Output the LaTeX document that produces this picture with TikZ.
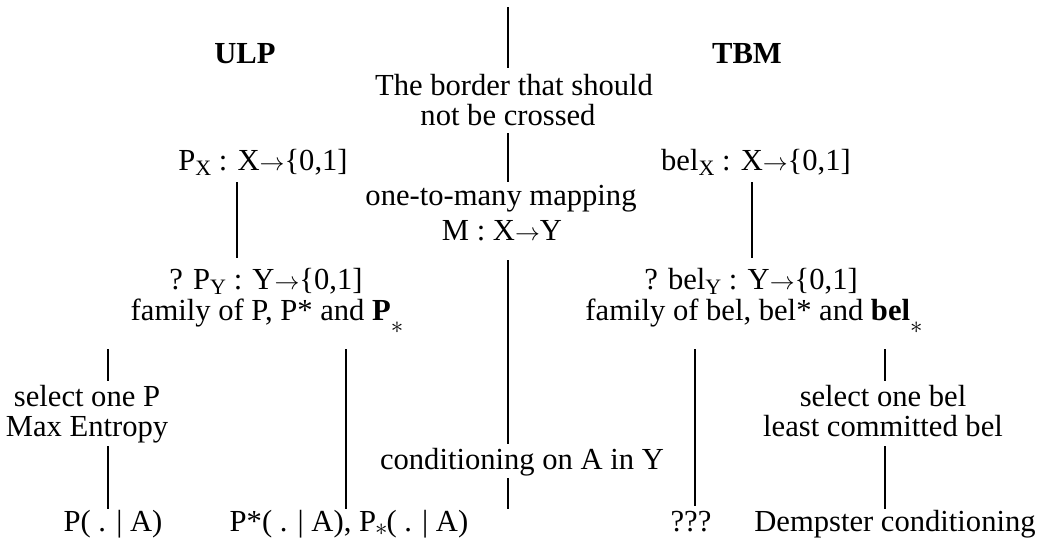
\documentclass[tikz,border=0pt]{standalone}
\usepackage{fontspec}
\setmainfont{Liberation Serif}
\newcommand\sbx[1]{\raisebox{-5pt}{\fontsize{22}{22}\selectfont #1}}
\newcommand\lowast{\raisebox{-13pt}{\fontsize{24}{24}\selectfont$\ast$}}
\newcommand\midast{\kern-1pt\raisebox{-4pt}{\fontsize{24}{24}\selectfont$\ast$}\kern-1pt}
\newcommand\arr{$\rightarrow$}
\begin{document}
\begin{tikzpicture}[x=1pt,y=-1pt,
  lbl/.style={anchor=base,inner sep=0pt,text height=18pt,text depth=4pt,font=\fontsize{30.6}{32}\selectfont},
  hd/.style={lbl,font=\fontsize{30.6}{32}\selectfont\bfseries},
  conn/.style={line width=2pt}]
\useasboundingbox (0,0) rectangle (1051,542);

% column positions for connectors
\coordinate (xc) at (508,0);
\coordinate (xl) at (237,0);
\coordinate (xr) at (752,0);
\coordinate (xa) at (108,0);
\coordinate (xb) at (346,0);
\coordinate (xd) at (695,0);
\coordinate (xe) at (885,0);
\coordinate (ctop) at (508,7);
\coordinate (cbot) at (508,509);

% headings
\node[hd] (ulp) at (245,63) {ULP};
\node[hd] (tbm) at (747,63) {TBM};

% centre column
\node[lbl] (b1) at (514,95) {The border that should};
\node[lbl] (b2) at (508,125) {not be crossed};
\node[lbl] (otm) at (501,205) {one-to-many mapping};
\node[lbl] (mxy) at (502,240) {M : X\arr Y};
\node[lbl] (cond) at (522,469) {conditioning on A in Y};

% left (ULP)
\node[lbl] (px) at (263,170) {P\sbx{X} : X\arr\{0,1]};
\node[lbl] (py) at (266,289) {? P\sbx{Y} : Y\arr\{0,1]};
\node[lbl] (famL) at (267,320) {family of P, P* and \textbf{P}\lowast};
\node[lbl] (selP) at (87,406) {select one P};
\node[lbl] (maxE) at (87,436) {Max Entropy};
\node[lbl] (pa) at (113,531) {P( . | A)};
\node[lbl] (psa) at (349,531) {P*( . | A), P\midast( . | A)};

% right (TBM)
\node[lbl] (bx) at (756,170) {bel\sbx{X} : X\arr\{0,1]};
\node[lbl] (by) at (751,289) {? bel\sbx{Y} : Y\arr\{0,1]};
\node[lbl] (famR) at (754,320) {family of bel, bel* and \textbf{bel}\lowast};
\node[lbl] (selB) at (883,406) {select one bel};
\node[lbl] (lcb) at (883,436) {least committed bel};
\node[lbl] (qqq) at (691,531) {???};
\node[lbl] (demp) at (895,531) {Dempster conditioning};

% connectors
\draw[conn,shorten >=9pt] (ctop) -- (b1.north -| xc);
\draw[conn,shorten <=4pt,shorten >=5pt] (b2.south -| xc) -- (otm.north -| xc);
\draw[conn,shorten <=16pt,shorten >=7pt] (mxy.south -| xc) -- (cond.north -| xc);
\draw[conn,shorten <=5pt] (cond.south -| xc) -- (cbot);
\draw[conn,shorten <=8pt,shorten >=13pt] (px.south -| xl) -- (py.north -| xl);
\draw[conn,shorten <=8pt,shorten >=13pt] (bx.south -| xr) -- (by.north -| xr);
\draw[conn,shorten <=25pt,shorten >=7pt] (famL.south -| xa) -- (selP.north -| xa);
\draw[conn,shorten <=6pt,shorten >=4pt] (maxE.south -| xa) -- (pa.north -| xa);
\draw[conn,shorten <=25pt,shorten >=4pt] (famL.south -| xb) -- (psa.north -| xb);
\draw[conn,shorten <=25pt,shorten >=7pt] (famR.south -| xd) -- (qqq.north -| xd);
\draw[conn,shorten <=25pt,shorten >=7pt] (famR.south -| xe) -- (selB.north -| xe);
\draw[conn,shorten <=6pt,shorten >=4pt] (lcb.south -| xe) -- (demp.north -| xe);
\end{tikzpicture}
\end{document}
